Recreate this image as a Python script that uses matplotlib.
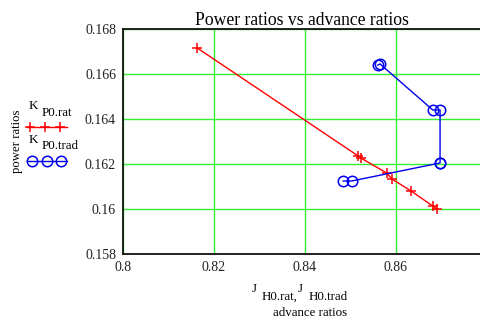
import matplotlib.pyplot as plt
from matplotlib.lines import Line2D

plt.rcParams['font.family'] = ['Liberation Serif', 'DejaVu Serif']

# advance ratios J and power ratios K (rational / traditional)
J_rat = [0.8163, 0.8517, 0.8523, 0.8580, 0.8591, 0.8633, 0.8681, 0.8690]
K_rat = [0.16716, 0.16237, 0.16228, 0.16161, 0.16135, 0.16082, 0.16015, 0.16002]

J_trad = [0.8560, 0.8565, 0.8681, 0.8697, 0.8697, 0.8697, 0.8503, 0.8484]
K_trad = [0.16640, 0.16645, 0.16441, 0.16441, 0.16206, 0.16206, 0.16126, 0.16126]

x_ticks = [0.8, 0.82, 0.84, 0.86]
y_ticks = [0.158, 0.16, 0.162, 0.164, 0.166, 0.168]

fig = plt.figure(figsize=(4.81, 3.18), dpi=100)
ax = fig.add_axes([0.2557, 0.1997, 0.7443, 0.7091])

ax.plot(J_rat, K_rat, color='red', lw=1, marker='+', ms=7.5, mew=1.1)
ax.plot(J_trad, K_trad, color='#0000ee', lw=1, marker='o', ms=7.5,
        mfc='none', mew=1.1)

ax.set_xlim(0.8, 0.8787)
ax.set_ylim(0.158, 0.168)
ax.set_xticks(x_ticks)
ax.set_xticklabels(['0.8', '0.82', '0.84', '0.86'])
ax.set_yticks(y_ticks)
ax.set_yticklabels(['0.158', '0.16', '0.162', '0.164', '0.166', '0.168'])
ax.tick_params(length=0, labelsize=10, colors='#222222', pad=5)
ax.grid(True, color='#33ee33', lw=1)
ax.set_axisbelow(True)
for s in ['left', 'bottom', 'top']:
    ax.spines[s].set_linewidth(1.3)
    ax.spines[s].set_color('#111111')
ax.spines['right'].set_visible(False)

ax.set_title('Power ratios vs advance ratios', fontsize=12.7, pad=3)

fs = 9.3
# y label and legend on the left
fig.text(0.035, 0.557, 'power ratios', rotation=90, fontsize=9.2,
         ha='center', va='center')
fig.text(0.060, 0.656, 'K', fontsize=fs, va='baseline')
fig.text(0.087, 0.636, 'P0.rat', fontsize=fs, va='baseline')
fig.add_artist(Line2D([0.056, 0.139], [0.601, 0.601], color='red', lw=1,
                      transform=fig.transFigure))
for xm in [0.062, 0.094, 0.125]:
    fig.add_artist(Line2D([xm], [0.601], color='red', marker='+', ms=7.5,
                          mew=1.1, transform=fig.transFigure))
fig.text(0.060, 0.551, 'K', fontsize=fs, va='baseline')
fig.text(0.087, 0.531, 'P0.trad', fontsize=fs, va='baseline')
fig.add_artist(Line2D([0.056, 0.139], [0.494, 0.494], color='#0000ee', lw=1,
                      transform=fig.transFigure))
for xm in [0.066, 0.097, 0.127]:
    fig.add_artist(Line2D([xm], [0.494], color='#0000ee', marker='o', ms=7.5,
                          mfc='none', mew=1.1, transform=fig.transFigure))

# x label
fig.text(0.524, 0.082, 'J', fontsize=fs, va='baseline')
fig.text(0.543, 0.057, 'H0.rat,', fontsize=fs, va='baseline')
fig.text(0.619, 0.082, 'J', fontsize=fs, va='baseline')
fig.text(0.641, 0.057, 'H0.trad', fontsize=fs, va='baseline')
fig.text(0.645, 0.007, 'advance ratios', fontsize=fs, ha='center',
         va='baseline')

fig.savefig('out.png', dpi=100)
